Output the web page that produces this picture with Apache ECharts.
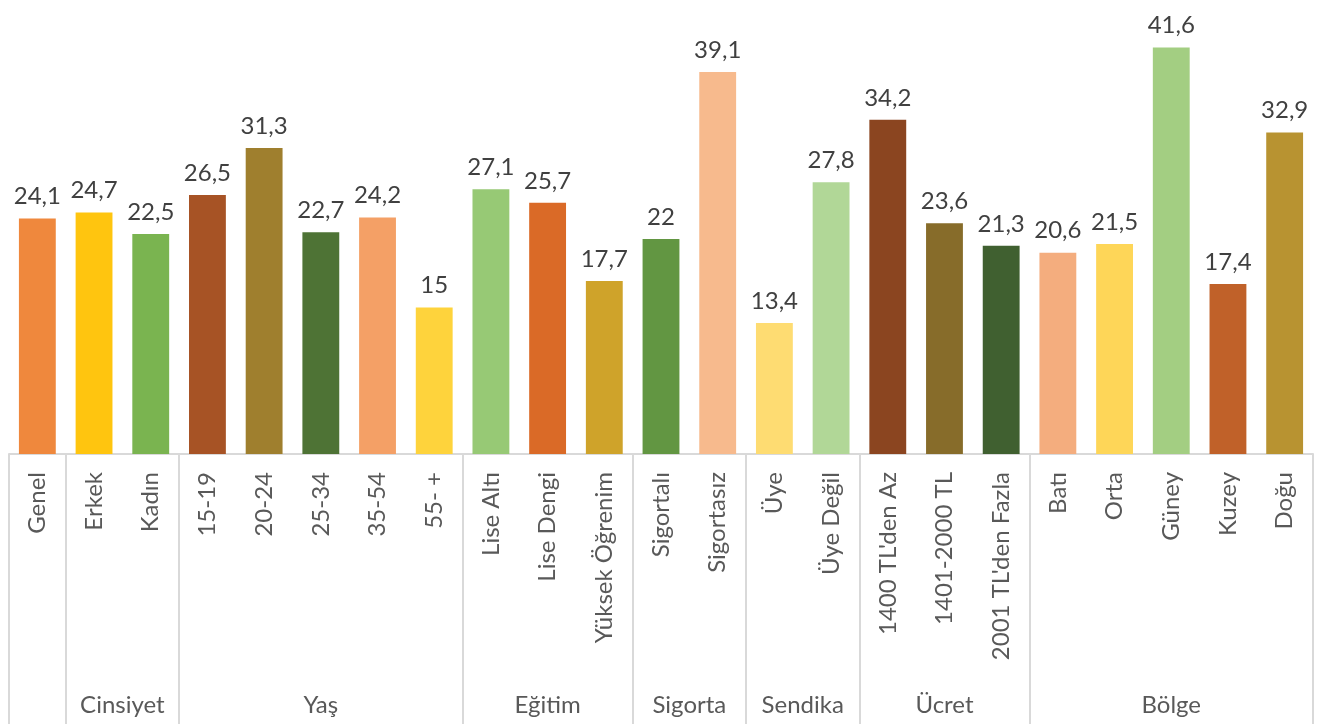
<!DOCTYPE html>
<html>
<head>
<meta charset="utf-8">
<script src="https://cdn.jsdelivr.net/npm/echarts@6/dist/echarts.min.js"></script>
<style>
  html, body { margin: 0; padding: 0; background: #fff; }
  #chart { width: 1318px; height: 724px; }
</style>
</head>
<body>
<div id="chart"></div>
<script>
// kategoriler
const categories = ['Genel', 'Erkek', 'Kadın', '15-19', '20-24', '25-34', '35-54', '55- +',
  'Lise Altı', 'Lise Dengi', 'Yüksek Öğrenim', 'Sigortalı', 'Sigortasız', 'Üye', 'Üye Değil',
  "1400 TL'den Az", '1401-2000 TL', "2001 TL'den Fazla", 'Batı', 'Orta', 'Güney', 'Kuzey', 'Doğu'];
// değerler
const values = [24.1, 24.7, 22.5, 26.5, 31.3, 22.7, 24.2, 15, 27.1, 25.7, 17.7, 22, 39.1,
  13.4, 27.8, 34.2, 23.6, 21.3, 20.6, 21.5, 41.6, 17.4, 32.9];
// grup adları ve grup sınırları (kategori indeksine göre)
const groupNames = ['Cinsiyet', 'Yaş', 'Eğitim', 'Sigorta', 'Sendika', 'Ücret', 'Bölge'];
const groupStarts = [1, 3, 8, 11, 13, 15, 18];
const groupEnds = [2, 7, 10, 12, 14, 17, 22];
// çubuk renkleri
const barColors = ['#EF883D', '#FFC50F', '#7AB450', '#A75325', '#9F7F2E', '#4E7335', '#F4A066',
  '#FED33C', '#97C975', '#DA6A27', '#CFA32A', '#629642', '#F7BA8D', '#FEDC72', '#B1D797',
  '#8B4520', '#876C2A', '#406030', '#F4AD7E', '#FED658', '#A3CE82', '#C06129', '#B89331'];

const boundaries = [-0.5, 0.5];
groupEnds.forEach((e) => boundaries.push(e + 0.5));
const centers = groupStarts.map((s, i) => (s + groupEnds[i]) / 2);

const chart = echarts.init(document.getElementById('chart'));
const fontFamily = 'Lato, "Noto Sans", sans-serif';

const option = {
  animation: false,
  grid: { left: 9, right: 5, top: 24, bottom: 270 },
  xAxis: [
    {
      type: 'category',
      data: categories,
      position: 'bottom',
      axisLine: { lineStyle: { color: '#D9D9D9', width: 2 } },
      axisTick: { show: false },
      axisLabel: {
        interval: 0,
        rotate: 90,
        margin: 18,
        color: '#595959',
        fontSize: 24,
        fontFamily: fontFamily,
      },
    },
    {
      type: 'value',
      position: 'bottom',
      offset: 0,
      min: -0.5,
      max: 22.5,
      axisLine: { show: false },
      splitLine: { show: false },
      axisTick: {
        show: true,
        customValues: boundaries,
        length: 272,
        lineStyle: { color: '#D9D9D9', width: 2 },
      },
      axisLabel: {
        customValues: centers,
        margin: 239,
        color: '#595959',
        fontSize: 24,
        fontFamily: fontFamily,
        formatter(v) {
          const i = centers.indexOf(v);
          return i >= 0 ? groupNames[i] : '';
        },
      },
    },
  ],
  yAxis: {
    type: 'value',
    min: 0,
    max: 44,
    show: false,
    splitLine: { show: false },
  },
  series: [
    {
      type: 'bar',
      xAxisIndex: 0,
      barCategoryGap: '35%',
      data: values.map((v, i) => ({ value: v, itemStyle: { color: barColors[i] } })),
      label: {
        show: true,
        position: 'top',
        distance: 10,
        color: '#404040',
        fontSize: 24,
        fontFamily: fontFamily,
        formatter: (p) => String(p.value).replace('.', ','),
      },
    },
  ],
};
chart.setOption(option);
</script>
</body>
</html>
